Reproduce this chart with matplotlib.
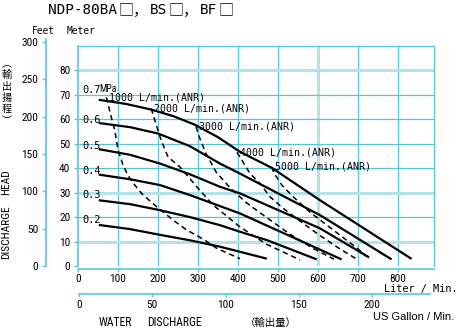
import matplotlib
matplotlib.use("Agg")
import matplotlib.pyplot as plt
from matplotlib import font_manager

# ---------------- data ----------------
# pump head (m) vs. water discharge (L/min) at each supply air pressure
pressures = ["0.7", "0.6", "0.5", "0.4", "0.3", "0.2"]
p07_flow = [52, 120, 183, 240, 292, 350, 405, 484, 605, 834]
p07_head = [68.0, 66.3, 64.0, 61.2, 57.8, 52.7, 46.7, 40.2, 26.9, 2.9]
p06_flow = [52, 130, 200, 280, 355, 405, 605, 784]
p06_head = [58.5, 56.8, 54.2, 49.0, 41.9, 37.8, 20.8, 2.7]
p05_flow = [52, 130, 205, 280, 355, 405, 605, 728]
p05_head = [47.8, 45.5, 41.9, 37.5, 32.4, 29.7, 15.4, 3.5]
p04_flow = [52, 133, 205, 280, 355, 405, 659]
p04_head = [37.4, 35.4, 33.1, 29.0, 24.5, 21.5, 2.7]
p03_flow = [52, 130, 200, 280, 355, 405, 472, 597]
p03_head = [26.9, 25.3, 23.0, 20.0, 16.7, 14.0, 10.6, 2.7]
p02_flow = [52, 130, 200, 280, 355, 405, 472]
p02_head = [16.8, 15.1, 12.9, 10.5, 7.9, 5.8, 3.0]

# air consumption lines (L/min ANR)
air_labels = ["1000", "2000", "3000", "4000", "5000"]
a1000_flow = [71, 83, 92, 100, 112, 125, 140, 160, 197, 240, 272, 313, 347, 405]
a1000_head = [69, 61, 55.5, 47.5, 41.5, 37, 33.5, 29.5, 24.2, 18.5, 14.7, 11, 7.2, 3.0]
a2000_flow = [183, 196, 208, 225, 255, 297, 338, 405, 470, 555]
a2000_head = [64.4, 57.6, 51.4, 44.6, 40.5, 32.4, 24.9, 16.0, 9.0, 2.5]
a3000_flow = [295, 305, 320, 345, 380, 420, 470, 530, 590, 640]
a3000_head = [57, 52, 46, 38.5, 32, 26, 20, 13, 7, 2.8]
a4000_flow = [397, 405, 430, 455, 480, 513, 550, 600, 650, 701]
a4000_head = [46.5, 44.6, 37.8, 33.8, 28.3, 23.6, 19, 13, 7.5, 2.4]
a5000_flow = [484, 490, 510, 540, 580, 620, 660, 700, 722]
a5000_head = [40.5, 38, 33, 28, 22, 17, 12, 7, 3.8]

meter_ticks = [0, 10, 20, 30, 40, 50, 60, 70, 80]
feet_ticks = [0, 50, 100, 150, 200, 250, 300]
liter_ticks = [0, 100, 200, 300, 400, 500, 600, 700, 800]
gallon_ticks = [0, 50, 100, 150, 200]

# ---------------- fonts ----------------
installed = {f.name for f in font_manager.fontManager.ttflist}


def pick(*names):
    return [n for n in names if n in installed] + ["DejaVu Sans"]


MONO = pick("DejaVu Sans Mono", "Noto Sans CJK JP")
NARROW = pick("Liberation Sans Narrow", "Roboto Condensed", "Noto Sans CJK JP")
SANS = pick("Liberation Sans", "Noto Sans CJK JP")
CJK = pick("Noto Sans CJK JP")

# ---------------- figure ----------------
W, H = 462, 328
fig = plt.figure(figsize=(W / 100, H / 100), dpi=100)
fig.patch.set_facecolor("white")

CYAN = "#5cc3dc"
CYAN_LIGHT = "#b4e2ec"
PT = 0.72  # points per pixel at 100 dpi


def rect(x0, y0, x1, y1):
    return [x0 / W, 1 - y1 / H, (x1 - x0) / W, (y1 - y0) / H]


ax = fig.add_axes(rect(78, 46, 434, 266))
ax.set_xlim(0, 890)
ax.set_ylim(0, 90)

# grid
for x in [100, 200, 300, 400, 500, 700, 800]:
    ax.axvline(x, color=CYAN, lw=0.9, zorder=1)
ax.axvline(600, color=CYAN_LIGHT, lw=2.2, zorder=1)
for y in [20, 40, 50, 60, 70]:
    ax.axhline(y, color=CYAN, lw=0.9, zorder=1)
for y in [10, 30, 80]:
    ax.axhline(y, color=CYAN_LIGHT, lw=2.2, zorder=1)

for s in ["top", "right"]:
    ax.spines[s].set_color(CYAN)
    ax.spines[s].set_linewidth(0.9)
ax.spines["left"].set_color(CYAN)
ax.spines["left"].set_linewidth(1.2)
ax.spines["bottom"].set_color(CYAN)
ax.spines["bottom"].set_linewidth(1.2)
ax.spines["bottom"].set_position(("outward", 3 * PT))

ax.set_yticks(meter_ticks)
ax.set_yticklabels([str(t) for t in meter_ticks], family=NARROW, fontsize=8.2)
ax.set_xticks(liter_ticks)
ax.set_xticklabels([str(t) for t in liter_ticks], family=NARROW, fontsize=8.2)
ax.tick_params(axis="y", direction="out", length=3, width=1, color=CYAN, pad=2.5)
ax.tick_params(axis="x", direction="out", length=2.5, width=1, color=CYAN, pad=1)

# pressure curves, each labelled just left of and above its start
curves = [(p07_flow, p07_head), (p06_flow, p06_head), (p05_flow, p05_head),
          (p04_flow, p04_head), (p03_flow, p03_head), (p02_flow, p02_head)]
label_rise = [10, 3.4, 3.4, 3.4, 5, 4.8]  # px above the curve start
for (fx, hy), p, rise in zip(curves, pressures, label_rise):
    ax.plot(fx, hy, color="black", lw=1.6, solid_capstyle="butt",
            solid_joinstyle="round", zorder=4)
    ax.annotate(p, (fx[0], hy[0]), xytext=(-16 * PT, rise * PT),
                textcoords="offset points", family=MONO, fontsize=7.4,
                ha="left", va="center", zorder=5)
ax.annotate("MPa", (p07_flow[0], p07_head[0]), xytext=(0.8 * PT, 10.5 * PT),
            textcoords="offset points", family=NARROW, fontsize=7.0,
            ha="left", va="center", zorder=5)

# air consumption curves, labels sit just right of each line's upper end
airs = [(a1000_flow, a1000_head), (a2000_flow, a2000_head), (a3000_flow, a3000_head),
        (a4000_flow, a4000_head), (a5000_flow, a5000_head)]
for (fx, hy), a in zip(airs, air_labels):
    ax.plot(fx, hy, color="black", lw=1.1, ls=(0, (3.5, 2.5)), zorder=3)
    ax.annotate(a + " L/min.(ANR)", (fx[0], hy[0]), xytext=(3 * PT, 0.2 * PT),
                textcoords="offset points", family=MONO, fontsize=7.1,
                ha="left", va="center", zorder=5)

# feet axis
axf = fig.add_axes(rect(46, 39, 46.01, 266))
axf.set_ylim(0, 227 / (2.45 * 0.3048))
axf.set_xlim(0, 1)
for s in ["top", "right", "bottom"]:
    axf.spines[s].set_visible(False)
axf.spines["left"].set_color(CYAN)
axf.spines["left"].set_linewidth(1.2)
axf.set_xticks([])
axf.set_yticks(feet_ticks)
axf.set_yticklabels([str(t) for t in feet_ticks], family=NARROW, fontsize=8.2)
axf.tick_params(axis="y", direction="out", length=3, width=1, color=CYAN, pad=2.5)
axf.patch.set_visible(False)

# gallon axis
axg = fig.add_axes(rect(79, 294, 430, 294.01))
axg.set_xlim(0, 351 / 1.465)
axg.set_ylim(0, 1)
for s in ["top", "right", "left"]:
    axg.spines[s].set_visible(False)
axg.spines["bottom"].set_color(CYAN)
axg.spines["bottom"].set_linewidth(1.2)
axg.set_yticks([])
axg.set_xticks(gallon_ticks)
axg.set_xticklabels([str(t) for t in gallon_ticks], family=NARROW, fontsize=8.2)
axg.tick_params(axis="x", direction="out", length=2.5, width=1, color=CYAN, pad=1.5)
axg.patch.set_visible(False)


def ftext(x, y, s, **kw):
    fig.text(x / W, 1 - y / H, s, **kw)


# title, latin parts in a monospaced face, boxes and commas full width
for x, s, fam, fs in [(48, "NDP-80BA", MONO, 10.4), (118, "□，", CJK, 10.8),
                      (150, "BS", MONO, 10.4), (168, "□，", CJK, 10.8),
                      (200, "BF", MONO, 10.4), (219, "□", CJK, 10.8)]:
    ftext(x, 10, s, family=fam, fontsize=fs, va="center", ha="left")

ftext(32, 30.5, "Feet", family=MONO, fontsize=6.9, va="center", ha="left")
ftext(67, 30.5, "Meter", family=MONO, fontsize=6.9, va="center", ha="left")
ftext(457, 289, "Liter / Min.", family=MONO, fontsize=7.4, va="center", ha="right")
ftext(454, 317, "US Gallon / Min.", family=SANS, fontsize=8, va="center", ha="right")
ftext(99, 323, "WATER", family=NARROW, fontsize=8.4, va="center", ha="left")
ftext(147, 323, "DISCHARGE", family=NARROW, fontsize=8.4, va="center", ha="left")
ftext(245, 323, "（輸出量）", family=CJK, fontsize=7.5, va="center", ha="left")
ftext(6.5, 232, "DISCHARGE", family=NARROW, fontsize=8.2, va="center",
      ha="center", rotation=90)
ftext(6.5, 182.5, "HEAD", family=NARROW, fontsize=8.2, va="center",
      ha="center", rotation=90)
for i, ch in enumerate(["︵", "輸", "出", "揚", "程", "︶"]):
    ftext(6.5, 64 + i * 11.3, ch, family=CJK, fontsize=7.3, va="center", ha="center")

fig.savefig("out.png", dpi=100, facecolor="white")
